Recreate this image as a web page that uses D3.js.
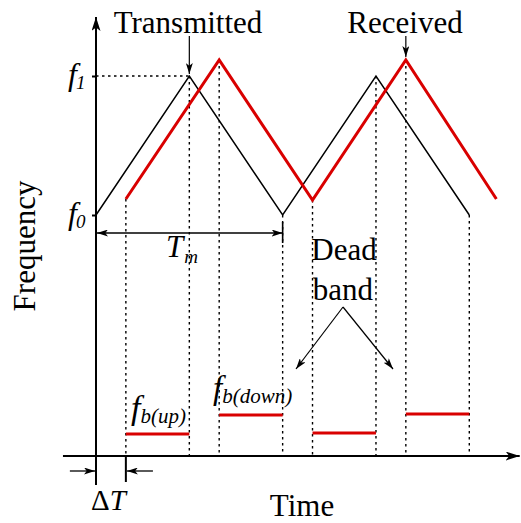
<!DOCTYPE html>
<html>
<head>
<meta charset="utf-8">
<script src="https://cdn.jsdelivr.net/npm/d3@7/dist/d3.min.js"></script>
<style>
  html, body { margin: 0; padding: 0; background: #fff; }
  svg { display: block; }
</style>
</head>
<body>
<svg id="chart" width="521" height="523"></svg>
<script>
// ---- FMCW triangular chirp: transmitted / received frequency vs time ----
// time is measured in half-periods of the modulation (Tm = 2 units)
const f0 = 24.1;                 // start (minimum) frequency
const f1 = 38.0;                 // peak frequency
const freqTicks = [f0, f1];
const freqTickNames = ["0", "1"];

// transmitted sweep vertices
const txTimes = [0, 1, 2, 3, 4];
const txFreqs = [f0, f1, f0, f1, f0];

// received sweep vertices (delayed by ΔT and Doppler-shifted)
const deltaT = 0.32;
const rxTimes = [0.32, 1.32, 2.32, 3.32, 4.29];
const rxFreqs = [25.7, 39.6, 25.6, 39.6, 25.7];

// beat frequency plateaus (start, end, level)
const beatStart = [0.32, 1.32, 2.32, 3.32];
const beatEnd   = [1, 2, 3, 4];
const beatFreq  = [2.2, 4.1, 2.3, 4.2];

// ---- layout ----
const SERIF = "'Liberation Serif', 'Times New Roman', Times, 'DejaVu Serif', serif";
const svg = d3.select("#chart").attr("font-family", SERIF);
const x = d3.scaleLinear().domain([0, 4]).range([96, 469.3]);
const y = d3.scaleLinear().domain([0, 44]).range([456, 16]);
const RED = "#d90000";

// arrowhead markers
const defs = svg.append("defs");
function marker(id, w, h) {
  defs.append("marker")
    .attr("id", id)
    .attr("viewBox", `0 0 ${w} ${h}`)
    .attr("refX", w).attr("refY", h / 2)
    .attr("markerWidth", w).attr("markerHeight", h)
    .attr("markerUnits", "userSpaceOnUse")
    .attr("orient", "auto-start-reverse")
    .append("path")
    .attr("d", `M0,0L${w},${h / 2}L0,${h}L${w * 0.25},${h / 2}Z`)
    .attr("fill", "#000");
}
marker("axisHead", 14, 9);
marker("smallHead", 11, 7);

function label(xp, yp, size) {
  return svg.append("text")
    .attr("x", xp).attr("y", yp)
    .attr("font-family", SERIF)
    .attr("font-size", size)
    .attr("fill", "#000");
}

// ---- axes ----
svg.append("line")
  .attr("x1", x(-0.354)).attr("x2", x(4.54))
  .attr("y1", y(0)).attr("y2", y(0))
  .attr("stroke", "#000").attr("stroke-width", 2)
  .attr("marker-end", "url(#axisHead)");
svg.append("line")
  .attr("x1", x(0)).attr("x2", x(0))
  .attr("y1", y(-2.9)).attr("y2", y(43.9))
  .attr("stroke", "#000").attr("stroke-width", 2)
  .attr("marker-end", "url(#axisHead)");

// frequency ticks f0 / f1
const yAxis = d3.axisLeft(y).tickValues(freqTicks).tickSize(4).tickFormat("");
const gy = svg.append("g").attr("transform", `translate(${x(0)},0)`).call(yAxis);
gy.select(".domain").remove();
gy.selectAll(".tick line").attr("stroke", "#000").attr("stroke-width", 2);

freqTicks.forEach((v, i) => {
  const t = label(68, y(v) + 9, 32);
  t.append("tspan").attr("font-style", "italic").text("f");
  t.append("tspan").attr("font-style", "italic").attr("font-size", 19)
    .attr("dx", -1).attr("dy", 4).text(freqTickNames[i]);
});

// dotted guide from the axis to the first peak at f1
svg.append("line")
  .attr("x1", x(0)).attr("x2", x(txTimes[1]))
  .attr("y1", y(f1)).attr("y2", y(f1))
  .attr("stroke", "#000").attr("stroke-width", 1.4)
  .attr("stroke-dasharray", "2.5,3.5");

// dotted verticals from each sweep vertex down to the time axis
const guides = [];
txTimes.forEach((t, i) => { if (t > 0) guides.push([t, txFreqs[i]]); });
rxTimes.forEach((t, i) => { if (i < rxTimes.length - 1) guides.push([t, rxFreqs[i]]); });
svg.append("g").selectAll("line").data(guides).join("line")
  .attr("x1", d => x(d[0])).attr("x2", d => x(d[0]))
  .attr("y1", d => y(d[1])).attr("y2", y(0))
  .attr("stroke", "#000").attr("stroke-width", 1.4)
  .attr("stroke-dasharray", "2.5,3.5");

// ---- sweeps ----
const line = d3.line().x(d => x(d[0])).y(d => y(d[1]));
svg.append("path")
  .datum(txTimes.map((t, i) => [t, txFreqs[i]]))
  .attr("d", line).attr("fill", "none")
  .attr("stroke", "#000").attr("stroke-width", 1.5);
svg.append("path")
  .datum(rxTimes.map((t, i) => [t, rxFreqs[i]]))
  .attr("d", line).attr("fill", "none")
  .attr("stroke", RED).attr("stroke-width", 3);

// beat frequency levels
svg.append("g").selectAll("line").data(beatFreq).join("line")
  .attr("x1", (d, i) => x(beatStart[i])).attr("x2", (d, i) => x(beatEnd[i]))
  .attr("y1", d => y(d)).attr("y2", d => y(d))
  .attr("stroke", RED).attr("stroke-width", 3);

// ---- annotations ----
// Tm span
const yTm = y(f0) + 18;
svg.append("line")
  .attr("x1", x(2)).attr("x2", x(0) + 1)
  .attr("y1", yTm).attr("y2", yTm)
  .attr("stroke", "#000").attr("stroke-width", 1.3)
  .attr("marker-start", "url(#smallHead)")
  .attr("marker-end", "url(#smallHead)");
svg.append("line")
  .attr("x1", x(2)).attr("x2", x(2))
  .attr("y1", yTm - 11).attr("y2", yTm + 10)
  .attr("stroke", "#000").attr("stroke-width", 1.6);
const tm = label(166, 257, 31);
tm.append("tspan").attr("font-style", "italic").text("T");
tm.append("tspan").attr("font-style", "italic").attr("font-size", 19)
  .attr("dx", 1).attr("dy", 6).text("m");

// ΔT delay marks
const yDt = y(-1.5);
svg.append("line")
  .attr("x1", x(deltaT)).attr("x2", x(deltaT))
  .attr("y1", y(0)).attr("y2", y(-2.6))
  .attr("stroke", "#000").attr("stroke-width", 2);
svg.append("line")
  .attr("x1", x(-0.28)).attr("x2", x(0) - 1)
  .attr("y1", yDt).attr("y2", yDt)
  .attr("stroke", "#000").attr("stroke-width", 1.3)
  .attr("marker-end", "url(#smallHead)");
svg.append("line")
  .attr("x1", x(deltaT + 0.29)).attr("x2", x(deltaT) + 1)
  .attr("y1", yDt).attr("y2", yDt)
  .attr("stroke", "#000").attr("stroke-width", 1.3)
  .attr("marker-end", "url(#smallHead)");
const dt = label(91, 510, 29);
dt.append("tspan").text("Δ");
dt.append("tspan").attr("font-style", "italic").text("T");

// curve labels with pointers
label(188, 33, 31).attr("text-anchor", "middle").text("Transmitted");
svg.append("line")
  .attr("x1", x(txTimes[1])).attr("x2", x(txTimes[1]))
  .attr("y1", 36).attr("y2", y(f1) - 2)
  .attr("stroke", "#000").attr("stroke-width", 1.2)
  .attr("marker-end", "url(#smallHead)");
label(405, 33, 31).attr("text-anchor", "middle").text("Received");
svg.append("line")
  .attr("x1", x(rxTimes[3])).attr("x2", x(rxTimes[3]))
  .attr("y1", 36).attr("y2", y(rxFreqs[3]) - 3)
  .attr("stroke", "#000").attr("stroke-width", 1.2)
  .attr("marker-end", "url(#smallHead)");

// beat labels
const fbUp = label(131, 419, 34);
fbUp.append("tspan").attr("font-style", "italic").text("f");
fbUp.append("tspan").attr("font-style", "italic").attr("font-size", 21)
  .attr("dx", 0).attr("dy", 4).text("b(up)");
const fbDn = label(213, 399, 33);
fbDn.append("tspan").attr("font-style", "italic").text("f");
fbDn.append("tspan").attr("font-style", "italic").attr("font-size", 21)
  .attr("dx", 0).attr("dy", 4).text("b(down)");

// dead band
label(344, 260, 31).attr("text-anchor", "middle").text("Dead");
label(343, 300, 31).attr("text-anchor", "middle").text("band");
[296, 393].forEach(xe => {
  svg.append("line")
    .attr("x1", 343).attr("y1", 307).attr("x2", xe).attr("y2", 369)
    .attr("stroke", "#000").attr("stroke-width", 1.2)
    .attr("marker-end", "url(#smallHead)");
});

// axis titles
label(302, 516, 31).attr("text-anchor", "middle").text("Time");
label(0, 0, 31)
  .attr("transform", "translate(35,246) rotate(-90)")
  .attr("text-anchor", "middle").text("Frequency");
</script>
</body>
</html>
